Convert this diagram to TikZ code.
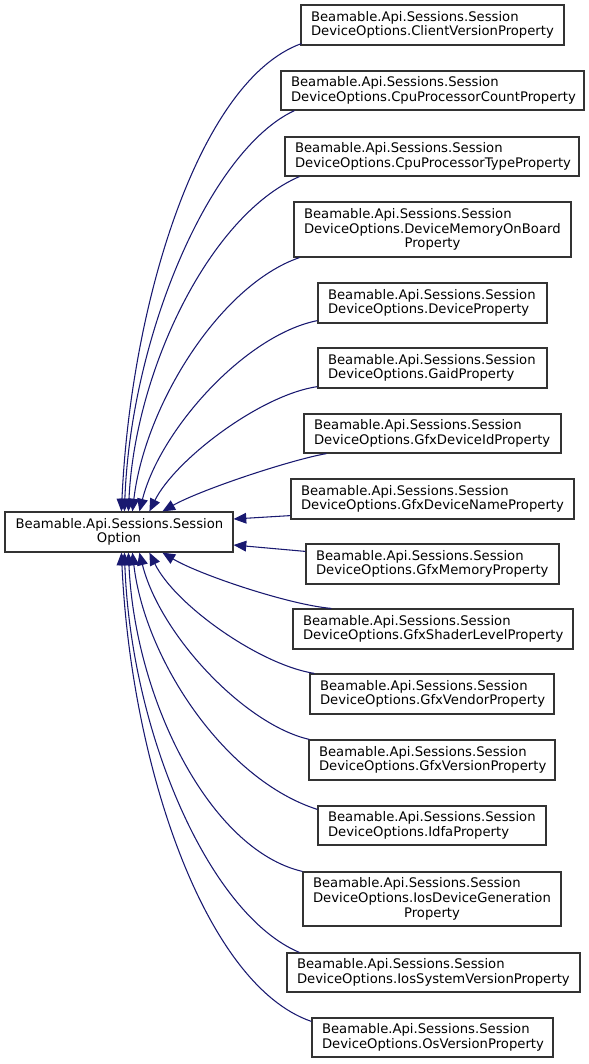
\documentclass[tikz,border=0pt]{standalone}
\usepackage{fontspec}
\setmainfont{DejaVu Sans}
\usetikzlibrary{arrows.meta,calc}
\definecolor{mblue}{HTML}{191970}
\definecolor{bordergray}{HTML}{333333}
\newcommand{\ctrline}[1]{\hbox to\hsize{\hfil #1\hfil}}
\begin{document}
\begin{tikzpicture}[x=0.75pt,y=-0.75pt,
  box/.style={draw=bordergray, line width=0.9pt, inner xsep=7.5pt, inner ysep=0pt,
    align=left, font=\fontsize{9.9}{11}\selectfont, fill=white},
  edge/.style={draw=mblue, line width=0.8pt, -{Triangle[length=9.5pt,width=8pt]}}]
\useasboundingbox (0,0) rectangle (589,1064);

\node[box, minimum width=171pt, minimum height=30pt, text width=155pt, inner xsep=8pt] (main) at (119,532)
  {Beamable.Api.Sessions.Session\\\ctrline{Option}};

\node[box, minimum width=197.25pt, minimum height=30pt, text width=182.25pt] (b1) at (432.5,25)
  {Beamable.Api.Sessions.Session\\DeviceOptions.ClientVersionProperty};
\node[box, minimum width=227.25pt, minimum height=29.25pt, text width=212.25pt] (b2) at (432.5,90.5)
  {Beamable.Api.Sessions.Session\\DeviceOptions.CpuProcessorCountProperty};
\node[box, minimum width=220.5pt, minimum height=29.25pt, text width=205.5pt] (b3) at (432,156.5)
  {Beamable.Api.Sessions.Session\\DeviceOptions.CpuProcessorTypeProperty};
\node[box, minimum width=207.75pt, minimum height=41.25pt, text width=192.75pt] (b4) at (432.5,229.5)
  {Beamable.Api.Sessions.Session\\DeviceOptions.DeviceMemoryOnBoard\\\ctrline{Property}};
\node[box, minimum width=171.75pt, minimum height=30pt, text width=156.75pt] (b5) at (432.5,303)
  {Beamable.Api.Sessions.Session\\DeviceOptions.DeviceProperty};
\node[box, minimum width=171.75pt, minimum height=30pt, text width=156.75pt] (b6) at (432.5,368)
  {Beamable.Api.Sessions.Session\\DeviceOptions.GaidProperty};
\node[box, minimum width=192.75pt, minimum height=29.25pt, text width=177.75pt] (b7) at (432.5,433.5)
  {Beamable.Api.Sessions.Session\\DeviceOptions.GfxDeviceIdProperty};
\node[box, minimum width=212.25pt, minimum height=30pt, text width=197.25pt] (b8) at (432.5,499)
  {Beamable.Api.Sessions.Session\\DeviceOptions.GfxDeviceNameProperty};
\node[box, minimum width=189.75pt, minimum height=30pt, text width=174.75pt] (b9) at (432.5,564)
  {Beamable.Api.Sessions.Session\\DeviceOptions.GfxMemoryProperty};
\node[box, minimum width=210pt, minimum height=30pt, text width=195pt] (b10) at (433,629)
  {Beamable.Api.Sessions.Session\\DeviceOptions.GfxShaderLevelProperty};
\node[box, minimum width=183pt, minimum height=30pt, text width=168pt] (b11) at (432,694)
  {Beamable.Api.Sessions.Session\\DeviceOptions.GfxVendorProperty};
\node[box, minimum width=184.5pt, minimum height=30pt, text width=169.5pt] (b12) at (432,760)
  {Beamable.Api.Sessions.Session\\DeviceOptions.GfxVersionProperty};
\node[box, minimum width=171pt, minimum height=29.25pt, text width=156pt] (b13) at (432,825.5)
  {Beamable.Api.Sessions.Session\\DeviceOptions.IdfaProperty};
\node[box, minimum width=193.5pt, minimum height=40.5pt, text width=178.5pt] (b14) at (432,899)
  {Beamable.Api.Sessions.Session\\DeviceOptions.IosDeviceGeneration\\\ctrline{Property}};
\node[box, minimum width=219.75pt, minimum height=29.25pt, text width=204.75pt] (b15) at (433.5,972.5)
  {Beamable.Api.Sessions.Session\\DeviceOptions.IosSystemVersionProperty};
\node[box, minimum width=180.75pt, minimum height=29.25pt, text width=165.75pt] (b16) at (432.5,1037.5)
  {Beamable.Api.Sessions.Session\\DeviceOptions.OsVersionProperty};

% upper edges
\draw[edge] ($(b1.south west)+(1,-2)$) .. controls (200,80) and (131,300) .. ($(main.north west)+(117,0)$);
\draw[edge] ($(b2.south west)+(14,0)$) .. controls (210,150) and (131,335) .. ($(main.north west)+(120,0)$);
\draw[edge] ($(b3.south west)+(15,0)$) .. controls (210,215) and (135,370) .. ($(main.north west)+(124,0)$);
\draw[edge] ($(b4.south west)+(6,0)$) .. controls (220,285) and (145,405) .. ($(main.north west)+(128,0)$);
\draw[edge] ($(b5.south west)+(0,-3)$) .. controls (245,335) and (160,430) .. ($(main.north west)+(135,0)$);
\draw[edge] ($(b6.south west)+(0,-2)$) .. controls (260,395) and (175,460) .. ($(main.north west)+(145,0)$);
\draw[edge] ($(b7.south west)+(23,0)$) .. controls (290,460) and (200,490) .. ($(main.north west)+(158,0)$);
% side edges
\draw[edge] ($(b8.south west)+(0,-4)$) -- ($(main.east)+(0,-13)$);
\draw[edge] ($(b9.north west)+(0,8)$) -- ($(main.east)+(0,13)$);
% lower edges
\draw[edge] ($(b10.north west)+(39,0)$) .. controls (290,605) and (200,575) .. ($(main.south west)+(158,0)$);
\draw[edge] ($(b11.north west)+(5,0)$) .. controls (260,665) and (175,605) .. ($(main.south west)+(145,0)$);
\draw[edge] ($(b12.north west)+(1,0)$) .. controls (245,725) and (160,635) .. ($(main.south west)+(135,0)$);
\draw[edge] ($(b13.north west)+(0,4)$) .. controls (225,780) and (145,660) .. ($(main.south west)+(128,0)$);
\draw[edge] ($(b14.north west)+(0,0)$) .. controls (210,850) and (135,700) .. ($(main.south west)+(124,0)$);
\draw[edge] ($(b15.north west)+(13,0)$) .. controls (210,915) and (131,735) .. ($(main.south west)+(120,0)$);
\draw[edge] ($(b16.north west)+(0,4)$) .. controls (205,985) and (131,765) .. ($(main.south west)+(117,0)$);
\end{tikzpicture}
\end{document}
